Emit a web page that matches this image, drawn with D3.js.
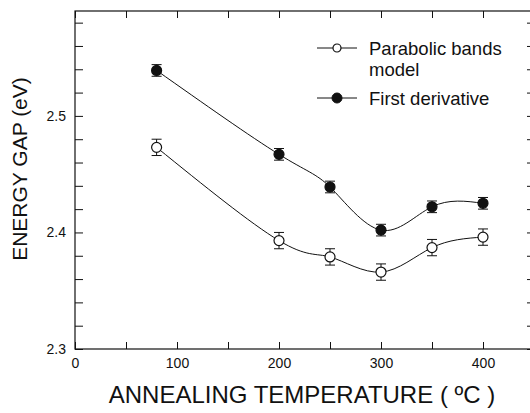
<!DOCTYPE html>
<html>
<head>
<meta charset="utf-8">
<script src="https://cdn.jsdelivr.net/npm/d3@7"></script>
<style>
  body { margin: 0; background: #fff; }
  text { font-family: Arial, "Liberation Sans", sans-serif; fill: #111; }
</style>
</head>
<body>
<div id="chart"></div>
<script>
// data
const temps = [80, 200, 250, 300, 350, 400];
const parabolic = [2.473, 2.393, 2.379, 2.366, 2.387, 2.396];
const parabolicErr = [0.007, 0.007, 0.007, 0.007, 0.007, 0.007];
const firstDeriv = [2.539, 2.467, 2.439, 2.402, 2.422, 2.425];
const firstDerivErr = [0.005, 0.005, 0.005, 0.005, 0.005, 0.005];
const xTicks = [0, 100, 200, 300, 400];
const yTicks = [2.3, 2.4, 2.5];

const W = 530, H = 413;
const margin = { top: 11, right: -4, bottom: 64, left: 75 };
const width = W - margin.left - margin.right;
const height = H - margin.top - margin.bottom;

const svg = d3.select("#chart").append("svg")
    .attr("width", W).attr("height", H)
    .append("g")
    .attr("transform", `translate(${margin.left},${margin.top})`);

const x = d3.scaleLinear().domain([0, 450]).range([0, width]);
const y = d3.scaleLinear().domain([2.3, 2.59]).range([height, 0]);

// frame
svg.append("rect")
    .attr("width", width).attr("height", height)
    .attr("fill", "none").attr("stroke", "#111").attr("stroke-width", 1.2);

// axes (ticks point inward)
const minorX = d3.range(0, 451, 50);
const minorY = d3.range(2.3, 2.5901, 0.02);

svg.append("g")
    .attr("transform", `translate(0,${height})`)
    .call(d3.axisBottom(x).tickValues(xTicks).tickSize(0).tickPadding(9).tickFormat(d3.format("d")))
    .call(g => g.select(".domain").remove())
    .call(g => g.selectAll("text").attr("font-size", 14));

svg.append("g")
    .attr("transform", `translate(0,${height})`)
    .call(d3.axisTop(x).tickValues(minorX).tickSize(7).tickFormat(""))
    .call(g => g.select(".domain").remove());

svg.append("g")
    .call(d3.axisBottom(x).tickValues(minorX).tickSize(7).tickFormat(""))
    .call(g => g.select(".domain").remove());

svg.append("g")
    .call(d3.axisLeft(y).tickValues(yTicks).tickSize(0).tickPadding(9).tickFormat(d3.format(".1f")))
    .call(g => g.select(".domain").remove())
    .call(g => g.selectAll("text").attr("font-size", 14));

svg.append("g")
    .call(d3.axisRight(y).tickValues(minorY).tickSize(8).tickFormat(""))
    .call(g => g.select(".domain").remove());

svg.append("g")
    .attr("transform", `translate(${width},0)`)
    .call(d3.axisLeft(y).tickValues(minorY).tickSize(7).tickFormat(""))
    .call(g => g.select(".domain").remove());

svg.selectAll(".tick line").attr("stroke", "#111");

// axis titles
svg.append("text")
    .attr("x", 302 - margin.left).attr("y", height + 54)
    .attr("text-anchor", "middle")
    .attr("font-size", 24)
    .text("ANNEALING TEMPERATURE ( ºC )");

svg.append("text")
    .attr("transform", "rotate(-90)")
    .attr("x", -(169 - margin.top)).attr("y", -48)
    .attr("text-anchor", "middle")
    .attr("font-size", 21)
    .text("ENERGY GAP (eV)");

// series
const series = [
    { name: "Parabolic bands", vals: parabolic, err: parabolicErr, fill: "#fff" },
    { name: "First derivative", vals: firstDeriv, err: firstDerivErr, fill: "#111" }
];

const line = d3.line()
    .x(d => x(d.t))
    .y(d => y(d.v))
    .curve(d3.curveNatural);

series.forEach(s => {
    const pts = temps.map((t, i) => ({ t, v: s.vals[i], e: s.err[i] }));

    svg.append("path")
        .datum(pts)
        .attr("fill", "none")
        .attr("stroke", "#111")
        .attr("stroke-width", 1)
        .attr("d", line);

    const eb = svg.append("g").selectAll("g").data(pts).enter().append("g");
    eb.append("line")
        .attr("x1", d => x(d.t)).attr("x2", d => x(d.t))
        .attr("y1", d => y(d.v - d.e)).attr("y2", d => y(d.v + d.e))
        .attr("stroke", "#111");
    eb.append("line")
        .attr("x1", d => x(d.t) - 5).attr("x2", d => x(d.t) + 5)
        .attr("y1", d => y(d.v - d.e)).attr("y2", d => y(d.v - d.e))
        .attr("stroke", "#111");
    eb.append("line")
        .attr("x1", d => x(d.t) - 5).attr("x2", d => x(d.t) + 5)
        .attr("y1", d => y(d.v + d.e)).attr("y2", d => y(d.v + d.e))
        .attr("stroke", "#111");

    svg.append("g").selectAll("circle").data(pts).enter().append("circle")
        .attr("cx", d => x(d.t)).attr("cy", d => y(d.v))
        .attr("r", 5)
        .attr("fill", s.fill)
        .attr("stroke", "#111")
        .attr("stroke-width", 1.2);
});

// legend
const legend = svg.append("g").attr("transform", `translate(${317 - margin.left},${48 - margin.top})`);

legend.append("line").attr("x1", 0).attr("x2", 40).attr("y1", 0).attr("y2", 0).attr("stroke", "#111");
legend.append("circle").attr("cx", 20).attr("cy", 0).attr("r", 4)
    .attr("fill", "#fff").attr("stroke", "#111").attr("stroke-width", 1.2);
legend.append("text").attr("x", 52).attr("y", 7).attr("font-size", 18.5).text("Parabolic bands");
legend.append("text").attr("x", 52).attr("y", 28).attr("font-size", 18.5).text("model");

legend.append("line").attr("x1", 0).attr("x2", 40).attr("y1", 50).attr("y2", 50).attr("stroke", "#111");
legend.append("circle").attr("cx", 20).attr("cy", 50).attr("r", 5)
    .attr("fill", "#111").attr("stroke", "#111");
legend.append("text").attr("x", 52).attr("y", 57).attr("font-size", 18.5).text("First derivative");
</script>
</body>
</html>
